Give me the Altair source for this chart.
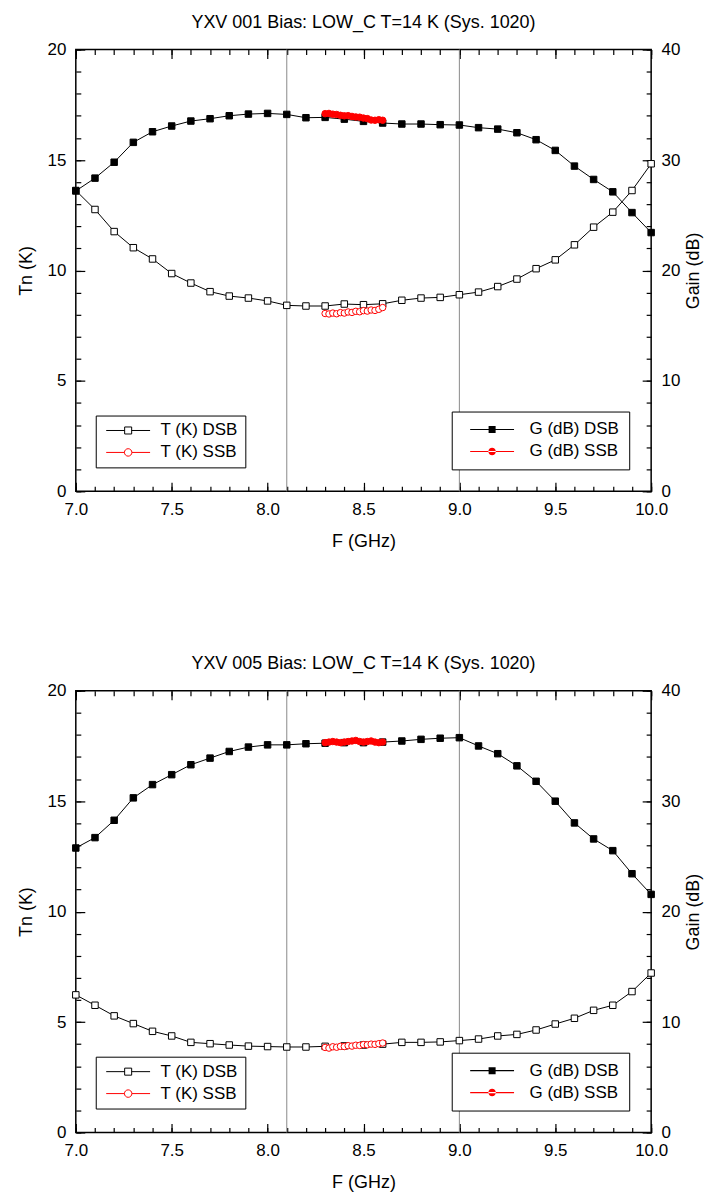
import altair as alt
import pandas as pd

FONT = "Liberation Sans"

TITLES = ["YXV 001 Bias: LOW_C T=14 K (Sys. 1020)",
          "YXV 005 Bias: LOW_C T=14 K (Sys. 1020)"]

FREQ = [7.0, 7.1, 7.2, 7.3, 7.4, 7.5, 7.6, 7.7, 7.8, 7.9, 8.0, 8.1, 8.2, 8.3, 8.4, 8.5,
        8.6, 8.7, 8.8, 8.9, 9.0, 9.1, 9.2, 9.3, 9.4, 9.5, 9.6, 9.7, 9.8, 9.9, 10.0]
SSB_FREQ = [8.30, 8.32, 8.34, 8.36, 8.38, 8.40, 8.42, 8.44, 8.46, 8.48, 8.50, 8.52,
            8.54, 8.56, 8.58, 8.60]

# Panel 1
P1_T_DSB = [13.62, 12.76, 11.76, 11.03, 10.52, 9.86, 9.43, 9.04, 8.84, 8.75, 8.62, 8.42,
            8.39, 8.39, 8.48, 8.45, 8.49, 8.65, 8.75, 8.78, 8.90, 9.02, 9.27, 9.61, 10.08,
            10.48, 11.16, 11.96, 12.64, 13.62, 14.83]
P1_G_DSB = [27.2, 28.36, 29.8, 31.6, 32.56, 33.08, 33.53, 33.74, 34.01, 34.16, 34.22, 34.13,
            33.83, 33.86, 33.7, 33.5, 33.35, 33.26, 33.26, 33.2, 33.17, 32.93, 32.8, 32.47,
            31.84, 30.87, 29.45, 28.24, 27.12, 25.24, 23.43]
P1_T_SSB = [8.05, 8.03, 8.07, 8.04, 8.09, 8.07, 8.12, 8.10, 8.15, 8.13, 8.18, 8.16, 8.21,
            8.19, 8.24, 8.32]
P1_G_SSB = [34.2, 34.22, 34.15, 34.12, 34.05, 34.0, 34.02, 33.95, 33.9, 33.88, 33.8, 33.75,
            33.62, 33.6, 33.65, 33.6]

# Panel 2
P2_T_DSB = [6.23, 5.76, 5.28, 4.93, 4.58, 4.37, 4.08, 4.02, 3.96, 3.91, 3.89, 3.87, 3.87,
            3.90, 3.92, 3.96, 4.00, 4.08, 4.08, 4.10, 4.16, 4.23, 4.37, 4.44, 4.64, 4.91,
            5.17, 5.53, 5.76, 6.38, 7.22]
P2_G_DSB = [25.76, 26.7, 28.27, 30.3, 31.5, 32.4, 33.3, 33.9, 34.5, 34.9, 35.1, 35.1, 35.2,
            35.25, 35.3, 35.3, 35.35, 35.45, 35.6, 35.7, 35.75, 35.0, 34.3, 33.2, 31.8, 30.0,
            28.03, 26.58, 25.52, 23.43, 21.56]
P2_T_SSB = [3.85, 3.82, 3.88, 3.86, 3.90, 3.89, 3.93, 3.91, 3.95, 3.94, 3.98, 3.97, 4.00,
            3.99, 4.02, 4.05]
P2_G_SSB = [35.3, 35.35, 35.4, 35.35, 35.3, 35.35, 35.4, 35.45, 35.5, 35.4, 35.35, 35.4,
            35.45, 35.35, 35.3, 35.35]

T_NAMES = ["T (K) DSB", "T (K) SSB"]
G_NAMES = ["G (dB) DSB", "G (dB) SSB"]
COLORS = ["black", "red"]

X_DOMAIN = [7.0, 10.0]
T_DOMAIN = [0, 20]
G_DOMAIN = [0, 40]
X_MAJOR = [7.0, 7.5, 8.0, 8.5, 9.0, 9.5, 10.0]
X_MINOR = FREQ
T_MAJOR = [0, 5, 10, 15, 20]
T_MINOR = list(range(0, 21))
G_MAJOR = [0, 10, 20, 30, 40]
G_MINOR = list(range(0, 41, 2))
MARKER_F = [8.1, 9.0]

# legend symbols: line + marker (open for T, filled for G)
T_PATHS = ["M-1,0H-0.16M0.16,0H1M-0.16,-0.16H0.16V0.16H-0.16Z",
           "M-1,0H-0.17M0.17,0H1M-0.17,0A0.17,0.17 0 1,0 0.17,0A0.17,0.17 0 1,0 -0.17,0Z"]
G_PATHS = ["M-1,-0.025H1V0.025H-1ZM-0.16,-0.16H0.16V0.16H-0.16Z",
           "M-1,-0.025H1V0.025H-1ZM-0.17,0A0.17,0.17 0 1,0 0.17,0A0.17,0.17 0 1,0 -0.17,0Z"]

MAJOR_LEN, MINOR_LEN = 9, 5
LABEL_SIZE = 17
TITLE_SIZE = 18


def make_axis(orient, values, major, labels=False, title=None, fmt=None, **extra):
    size = MAJOR_LEN if major else MINOR_LEN
    args = dict(orient=orient, values=values, tickSize=size, offset=-size, domain=False,
                grid=False, labels=labels, ticks=True, tickColor="black", tickWidth=1.2)
    if labels:
        args.update(labelFont=FONT, labelFontSize=LABEL_SIZE, labelColor="black",
                    labelPadding=10, labelFlush=False, labelOverlap=False)
        if fmt:
            args["format"] = fmt
    if title:
        args.update(title=title, titleFont=FONT, titleFontSize=TITLE_SIZE,
                    titleFontWeight="normal", titleColor="black")
    else:
        args["title"] = None
    args.update(extra)
    return alt.Axis(**args)


def series(freq, vals, ydom, color, shape, filled, xaxis, yaxis):
    df = pd.DataFrame({"F": freq, "V": vals})
    return alt.Chart(df).mark_line(
        color=color, strokeWidth=1,
        point=alt.OverlayMarkDef(shape=shape, size=42, filled=True,
                                 fill=color if filled else "white", stroke=color,
                                 strokeWidth=1, opacity=1)
    ).encode(
        x=alt.X("F:Q", scale=alt.Scale(domain=X_DOMAIN, nice=False, zero=False), axis=xaxis),
        y=alt.Y("V:Q", scale=alt.Scale(domain=ydom, nice=False, zero=False), axis=yaxis),
    )


def legend_layer(names, paths, filled, lx, ly, pad, symoff, laboff, spaces):
    df = pd.DataFrame({"series": names})
    leg = alt.Legend(orient="none", legendX=lx, legendY=ly, title=None,
                     symbolSize=1936, symbolStrokeWidth=1, symbolOpacity=1,
                     symbolOffset=symoff, labelOffset=laboff,
                     labelFont=FONT, labelFontSize=17, labelColor="black",
                     labelExpr="datum.label + '" + " " * spaces + "'",
                     padding=pad, strokeColor="black", fillColor="white",
                     clipHeight=16, rowPadding=5)
    mark_kwargs = dict(filled=filled, opacity=1, strokeWidth=1)
    if not filled:
        mark_kwargs["fill"] = "white"
    return alt.Chart(df).transform_filter("false").mark_point(**mark_kwargs).encode(
        color=alt.Color("series:N", scale=alt.Scale(domain=names, range=COLORS), legend=leg),
        shape=alt.Shape("series:N", scale=alt.Scale(domain=names, range=paths), legend=leg),
    )


def panel(title, tdsb, tssb, gdsb, gssb):
    rules = alt.Chart(pd.DataFrame({"F": MARKER_F})).mark_rule(
        color="#8a8a8a", strokeWidth=1
    ).encode(x=alt.X("F:Q", scale=alt.Scale(domain=X_DOMAIN, nice=False, zero=False), axis=None))

    a = series(FREQ, tdsb, T_DOMAIN, "black", "square", False,
               make_axis("bottom", X_MAJOR, True, labels=True, title="F (GHz)", fmt=".1f",
                         titlePadding=15),
               make_axis("left", T_MAJOR, True, labels=True, title="Tn (K)", titlePadding=12))
    b = series(SSB_FREQ, tssb, T_DOMAIN, "red", "circle", False,
               make_axis("bottom", X_MINOR, False),
               make_axis("left", T_MINOR, False))
    c = series(FREQ, gdsb, G_DOMAIN, "black", "square", True,
               make_axis("top", X_MAJOR, True),
               make_axis("right", G_MAJOR, True, labels=True, title="Gain (dB)",
                         titlePadding=5, titleAngle=270, titleBaseline="top"))
    d = series(SSB_FREQ, gssb, G_DOMAIN, "red", "circle", True,
               make_axis("top", X_MINOR, False),
               make_axis("right", G_MINOR, False))
    lt = legend_layer(T_NAMES, T_PATHS, False, 20, 367, 7, 3, 10, 0)
    lg = legend_layer(G_NAMES, G_PATHS, True, 377, 363, 10, 8, 15, 2)

    return alt.layer(rules, a, b, c, d, lt, lg).resolve_scale(
        y="independent", color="independent", shape="independent"
    ).resolve_axis(x="independent", y="independent").properties(
        width=577, height=443,
        title=alt.Title(title, font=FONT, fontSize=TITLE_SIZE, fontWeight="normal",
                        color="black", anchor="middle", frame="group", offset=9),
    )


chart = alt.vconcat(
    panel(TITLES[0], P1_T_DSB, P1_T_SSB, P1_G_DSB, P1_G_SSB),
    panel(TITLES[1], P2_T_DSB, P2_T_SSB, P2_G_DSB, P2_G_SSB),
    spacing=103,
).configure_view(stroke="black", strokeWidth=1.5).properties(
    padding={"left": 8, "right": 0, "top": 3, "bottom": 0}
)

chart.save("out.html", embed_options={"renderer": "svg", "actions": False})
